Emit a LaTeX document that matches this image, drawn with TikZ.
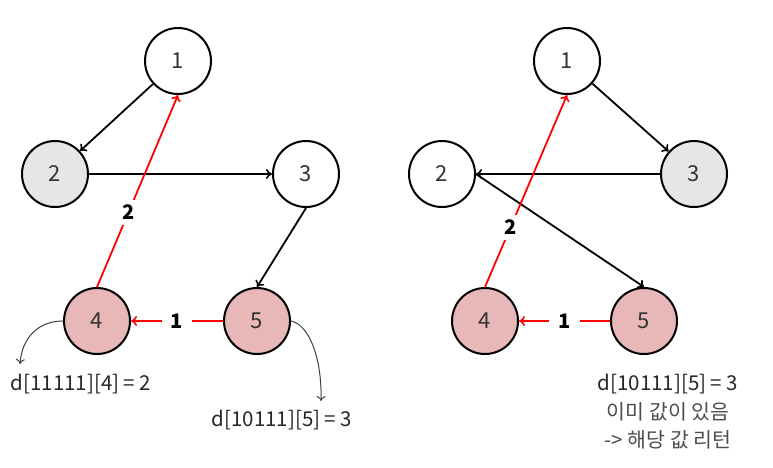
\documentclass[tikz,border=0pt]{standalone}
\usepackage{fontspec}
\setmainfont{Noto Sans CJK KR}
\usetikzlibrary{arrows.meta}
\definecolor{pinkfill}{HTML}{E8B7B7}
\definecolor{grayfill}{HTML}{E6E6E6}
\definecolor{numgray}{HTML}{333333}
\begin{document}
\begin{tikzpicture}[x=1pt,y=-1pt,
  vert/.style={circle,draw=black,line width=2pt,minimum size=66pt,inner sep=0pt,font=\fontsize{22}{26}\selectfont,text=numgray},
  visited/.style={vert,fill=pinkfill},
  cur/.style={vert,fill=grayfill},
  edge/.style={line width=1.8pt,-{To[length=6pt,width=10pt,line width=1.6pt]}},
  redge/.style={edge,draw=red},
  wlabel/.style={fill=white,inner xsep=9pt,inner ysep=5pt,font=\fontsize{20}{24}\selectfont\bfseries,text=black},
  note/.style={draw=black!75,line width=1pt,-{To[length=5pt,width=9pt,line width=1pt]}},
  txt/.style={font=\fontsize{20.5}{24}\selectfont,text=black!85,align=center}
]
\useasboundingbox (0,0) rectangle (773,467);
% left graph
\node[vert] (a1) at (178,61) {1};
\node[cur] (a2) at (55,174) {2};
\node[vert] (a3) at (306,174) {3};
\node[visited] (a4) at (97,321) {4};
\node[visited] (a5) at (257,321) {5};
\draw[edge] (a1) -- (a2);
\draw[edge] (a2) -- (a3);
\draw[edge] (a3.south) -- (a5.north);
\draw[redge] (a4.north) -- node[wlabel,pos=0.39] (la) {2} (a1.south);
\draw[redge] (a5) -- node[wlabel] (lb) {1} (a4);
\coordinate (e4) at (20,364);
\coordinate (e5) at (321,401);
\draw[note] (a4.west) .. controls (38,321) and (22,338) .. (e4);
\draw[note] (a5.east) .. controls (310,325) and (322,360) .. (e5);
\node[txt] (t1) at (81,384) {d[11111][4] = 2};
\node[txt] (t2) at (282,420) {d[10111][5] = 3};
% right graph
\node[vert] (b1) at (567,61) {1};
\node[vert] (b2) at (442,174) {2};
\node[cur] (b3) at (694,174) {3};
\node[visited] (b4) at (485,321) {4};
\node[visited] (b5) at (644,321) {5};
\draw[edge] (b1) -- (b3);
\draw[edge] (b3) -- (b2);
\draw[edge] (b2.east) -- (b5.north);
\draw[redge] (b4.north) -- node[wlabel,pos=0.31] (lc) {2} (b1.south);
\draw[redge] (b5) -- node[wlabel] (ld) {1} (b4);
\node[txt] (t3) at (668,384) {d[10111][5] = 3};
\node[txt,text=black!70] (t4) at (668,412) {이미 값이 있음};
\node[txt,text=black!70] (t5) at (668,440) {-> 해당 값 리턴};
\end{tikzpicture}
\end{document}
